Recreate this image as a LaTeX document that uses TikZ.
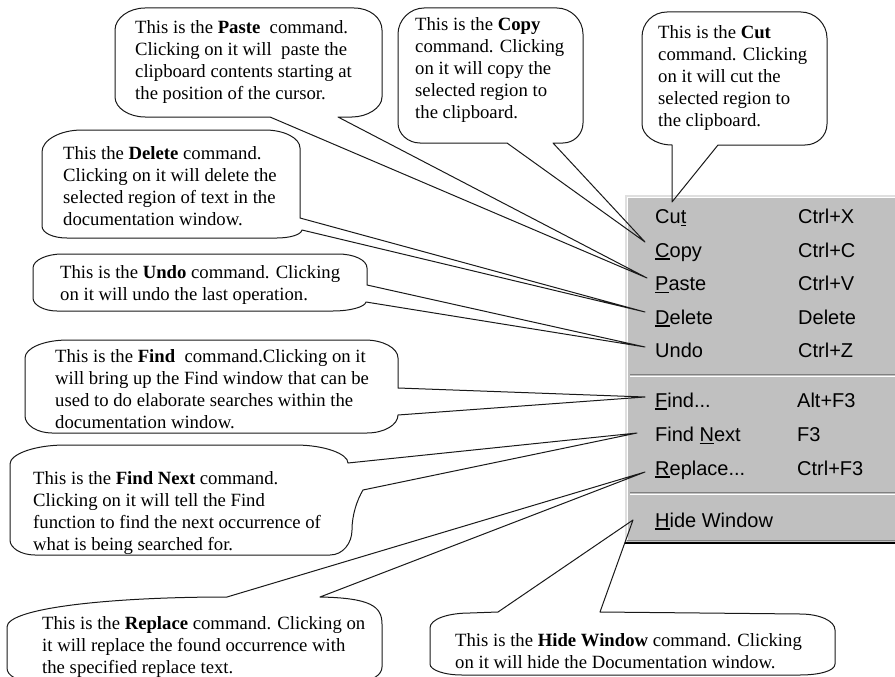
\documentclass[tikz,border=0pt]{standalone}
\usepackage{fontspec}
\setmainfont{Liberation Serif}
\newfontfamily\menufont{Liberation Sans}
\definecolor{menugray}{RGB}{192,192,192}
\definecolor{menudark}{RGB}{128,128,128}
\definecolor{inkline}{RGB}{25,25,25}
% underlined access key of a menu entry
\newsavebox\hkbox
\newcommand\hotkey[1]{\sbox\hkbox{#1}\rlap{\rule[-2.6pt]{\wd\hkbox}{1.4pt}}\usebox\hkbox}
\begin{document}
\begin{tikzpicture}[x=1pt,y=-1pt,
  bubble/.style={draw=inkline,line width=1pt,line join=round},
  note/.style={anchor=north west,inner sep=0pt,align=left,
    font=\fontsize{18.7}{22}\selectfont},
  item/.style={anchor=base west,inner sep=0pt,text height=15pt,text depth=4pt,
    font=\menufont\fontsize{20}{24}\selectfont}]
\useasboundingbox (0,0) rectangle (895,677);
\clip (0,0) rectangle (895,677);

% ---- the Edit menu ----
\fill[menugray] (625,195) rectangle (900,544);
\draw[gray!25,line width=1.5pt] (625.75,544) -- (625.75,195.75) -- (900,195.75);
\draw[white,line width=1.2pt] (627.6,540) -- (627.6,197.6) -- (900,197.6);
\draw[menudark,line width=1.2pt] (627,540.4) -- (900,540.4);
\draw[black,line width=2.2pt] (625,543) -- (900,543);
\draw[menudark,line width=1.5pt] (630,374.5) -- (900,374.5);
\draw[white,line width=1.2pt] (630,376.4) -- (900,376.4);
\draw[menudark,line width=1.5pt] (630,492.5) -- (900,492.5);
\draw[white,line width=1.2pt] (630,494.4) -- (900,494.4);

\node[item] (cut)      at (655,223.5) {Cu\hotkey{t}};
\node[item] (copy)     at (655,257)   {\hotkey{C}opy};
\node[item] (paste)    at (655,290.5) {\hotkey{P}aste};
\node[item] (delete)   at (655,324)   {\hotkey{D}elete};
\node[item] (undo)     at (655,357)   {Undo};
\node[item] (find)     at (655,407)   {\hotkey{F}ind...};
\node[item] (findnext) at (655,441.5) {Find \hotkey{N}ext};
\node[item] (replace)  at (655,475)   {\hotkey{R}eplace...};
\node[item] (hide)     at (655,527)   {\hotkey{H}ide Window};

\node[item] (kcut)     at (798,223.5) {Ctrl+X};
\node[item] (kcopy)    at (798,257)   {Ctrl+C};
\node[item] (kpaste)   at (798,290.5) {Ctrl+V};
\node[item] (kdelete)  at (798,324)   {Delete};
\node[item] (kundo)    at (798,357)   {Ctrl+Z};
\node[item] (kfind)    at (797,407)   {Alt+F3};
\node[item] (kfindnext) at (797,441.5) {F3};
\node[item] (kreplace) at (797,475)   {Ctrl+F3};

% pointer tips of the callouts, beside each menu entry
\coordinate (tcut)      at ([xshift=17pt,yshift=16pt]cut.west);
\coordinate (tcopy)     at ([xshift=-10pt,yshift=9.5pt]copy.west);
\coordinate (tpaste)    at ([xshift=-8pt,yshift=7pt]paste.west);
\coordinate (tdelete)   at ([xshift=-10pt,yshift=6.5pt]delete.west);
\coordinate (tundo)     at ([xshift=-10pt,yshift=4.5pt]undo.west);
\coordinate (tfind)     at ([xshift=-10pt,yshift=4.5pt]find.west);
\coordinate (tfindnext) at ([xshift=-18pt,yshift=3pt]findnext.west);
\coordinate (treplace)  at ([xshift=-10pt,yshift=-2.5pt]replace.west);
\coordinate (thide)     at ([xshift=-22pt,yshift=1.5pt]hide.west);

% ---- callout texts ----
\node[note] (npaste) at (135,20.2)
  {This is the \textbf{Paste}\ \ command.\\Clicking on it will\ \ paste the\\clipboard contents starting at\\the position of the cursor.};
\node[note] (ncopy) at (415,17)
  {This is the \textbf{Copy}\\command. Clicking\\on it will copy the\\selected region to\\the clipboard.};
\node[note] (ncut) at (658,25)
  {This is the \textbf{Cut}\\command. Clicking\\on it will cut the\\selected region to\\the clipboard.};
\node[note] (ndelete) at (63,146)
  {This the \textbf{Delete} command.\\Clicking on it will delete the\\selected region of text in the\\documentation window.};
\node[note] (nundo) at (60,265.5)
  {This is the \textbf{Undo} command. Clicking\\on it will undo the last operation.};
\node[note] (nfind) at (55,349.5)
  {This is the \textbf{Find}\ \ command.Clicking on it\\will bring up the Find window that can be\\used to do elaborate searches within the\\documentation window.};
\node[note] (nfindnext) at (33,471.5)
  {This is the \textbf{Find Next} command.\\Clicking on it will tell the Find\\function to find the next occurrence of\\what is being searched for.};
\node[note] (nreplace) at (42,616.5)
  {This is the \textbf{Replace} command. Clicking on\\it will replace the found occurrence with\\the specified replace text.};
\node[note] (nhide) at (455,633.5)
  {This is the \textbf{Hide Window} command. Clicking\\on it will hide the Documentation window.};

% ---- callout outlines with their pointers ----
\draw[bubble] (115,30) .. controls +(0,-12) and +(-16,0) .. (145,8) -- (354,8)
  .. controls +(16,0) and +(0,-12) .. (382,30) -- (382,97)
  .. controls +(0,11) and +(15,0) .. (352,117)
  -- (338,117) -- (tpaste) -- (270,117) -- (145,117)
  .. controls +(-16,0) and +(0,11) .. (115,97) -- cycle;
\draw[bubble] (398,34) .. controls +(0,-14) and +(-14,0) .. (424,8) -- (557,8)
  .. controls +(14,0) and +(0,-14) .. (583,34) -- (583,123)
  .. controls +(0,11) and +(11,0) .. (563,143)
  -- (553,143) -- (tcopy) -- (507,143) -- (420,143)
  .. controls +(-12,0) and +(0,11) .. (398,123) -- cycle;
\draw[bubble] (642,37) .. controls +(0,-14) and +(-14,0) .. (667,12) -- (801,12)
  .. controls +(14,0) and +(0,-14) .. (827,38) -- (827,124)
  .. controls +(0,12) and +(12,0) .. (805,145)
  -- (718,145) -- (tcut) -- (672,145)
  .. controls +(-17,0) and +(0,11) .. (642,124) -- cycle;
\draw[bubble] (42,152) .. controls +(0,-12) and +(-22,0) .. (82,130) -- (265,130)
  .. controls +(19,0) and +(0,-10) .. (300,148) -- (300,218) -- (tdelete) -- (302,230)
  .. controls +(-1,5) and +(12,0) .. (277,238) -- (67,238)
  .. controls +(-14,0) and +(0,7) .. (42,226) -- cycle;
\draw[bubble] (33,268) .. controls +(0,-8) and +(-15,0) .. (62,254) -- (338,254)
  .. controls +(16,0) and +(0,-8) .. (367,268) -- (367,285) -- (tundo) -- (366,302)
  .. controls +(-1,5) and +(17,0) .. (333,311) -- (57,311)
  .. controls +(-13,0) and +(0,7) .. (33,298) -- cycle;
\draw[bubble] (25,358) .. controls +(0,-10) and +(-24,0) .. (68,340) -- (365,340)
  .. controls +(18,0) and +(0,-10) .. (398,358) -- (398,388) -- (tfind) -- (398,415)
  .. controls +(0,10) and +(17,0) .. (367,433) -- (52,433)
  .. controls +(-15,0) and +(0,9) .. (25,416) -- cycle;
\draw[bubble] (10,464) .. controls +(0,-10) and +(-30,0) .. (65,445) -- (295,445)
  .. controls +(30,0) and +(0,-9) .. (348,463) -- (tfindnext) -- (363,490)
  .. controls +(-6,10) and +(0,-15) .. (352,530)
  .. controls +(0,13) and +(13,0) .. (330,555) -- (35,555)
  .. controls +(-14,0) and +(0,8) .. (10,540) -- cycle;
\draw[bubble] (7,668) -- (7,627) .. controls (7,608) and (110,597) .. (227,597)
  -- (treplace) -- (320,597) .. controls (370,598) and (382,606) .. (382,624)
  -- (382,667) .. controls +(0,8) and +(12,0) .. (360,681) -- (30,681)
  .. controls +(-12,0) and +(0,8) .. (7,668) -- cycle;
\draw[bubble] (430,628) .. controls +(0,-9) and +(-22,0) .. (470,613) -- (498,612)
  -- (thide) -- (600,612) -- (800,614) .. controls +(20,0) and +(0,-9) .. (835,630)
  -- (835,664) .. controls +(0,7) and +(19,0) .. (800,675) -- (462,675)
  .. controls +(-18,0) and +(0,6) .. (430,664) -- cycle;
\end{tikzpicture}
\end{document}
